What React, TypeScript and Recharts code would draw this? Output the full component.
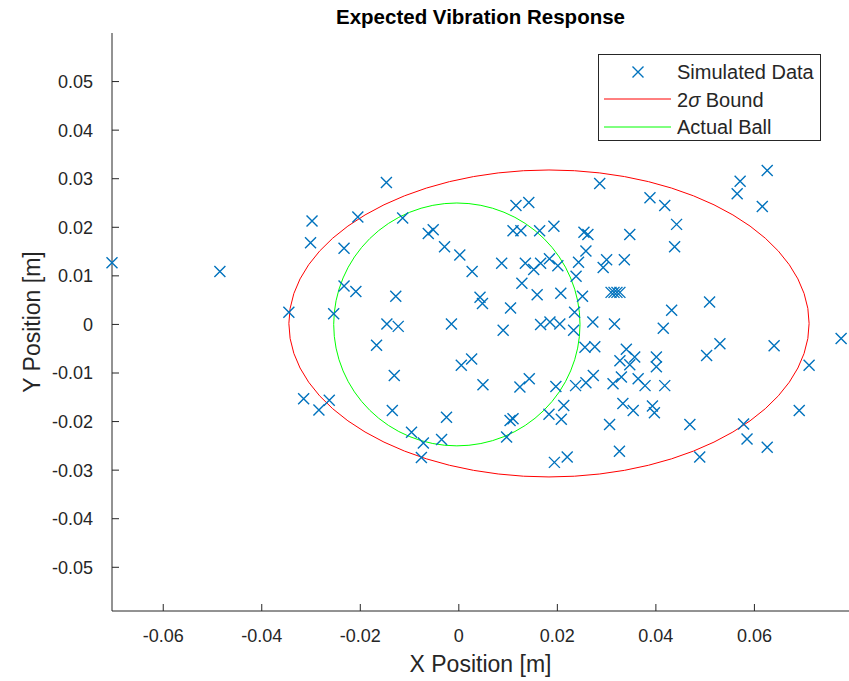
import React from "react";
import { ScatterChart, Scatter, XAxis, YAxis, ReferenceArea, Legend } from "recharts";

// Simulated impact positions [m]
const SIM_X = [
	-0.0704, -0.0485, -0.0345, -0.0315, -0.0284, -0.0263, -0.0301, -0.0298, -0.0233, -0.0205,
	-0.0147, -0.0114, -0.0062, -0.0052, -0.0029, 0.0002, 0.0027, -0.0233, -0.0209, -0.0128,
	-0.0254, -0.0146, -0.0123, -0.0015, -0.0167, -0.0131, -0.0135, -0.0025, -0.0096, -0.0072,
	-0.0035, -0.0076, 0.0005, 0.0026, 0.0043, 0.0048, 0.0049, 0.009, 0.0087, 0.0105,
	0.0116, 0.0142, 0.011, 0.0126, 0.0164, 0.0193, 0.0135, 0.0152, 0.0166, 0.0184,
	0.0201, 0.0128, 0.0159, 0.0207, 0.0166, 0.0185, 0.0205, 0.0233, 0.0238, 0.0243,
	0.0235, 0.0251, 0.0258, 0.0254, 0.0262, 0.0286, 0.0347, 0.03, 0.0293, 0.0336,
	0.0309, 0.0315, 0.0321, 0.0327, 0.0272, 0.0316, 0.0388, 0.0418, 0.0442, 0.0438,
	0.0571, 0.0565, 0.0626, 0.0616, 0.0509, 0.0432, 0.0415, 0.053, 0.0503, 0.064,
	0.0776, 0.0711, 0.0256, 0.0276, 0.034, 0.0327, 0.0357, 0.0347, 0.0401, 0.0401,
	0.033, 0.0313, 0.0273, 0.0258, 0.0237, 0.0364, 0.0378, 0.0418, 0.0197, 0.0124,
	0.0143, 0.0213, 0.0183, 0.0208, 0.0333, 0.0354, 0.0393, 0.0397, 0.0306, 0.0469,
	0.0691, 0.0578, 0.0585, 0.0626, 0.0489, 0.0326, 0.0194, 0.022, 0.0104, 0.011,
	0.0097,
];
const SIM_Y = [
	0.0127, 0.0109, 0.0025, -0.0153, -0.0176, -0.0156, 0.0168, 0.0213, 0.0157, 0.0221,
	0.0292, 0.0219, 0.0187, 0.0195, 0.016, 0.0143, 0.0109, 0.0079, 0.0068, 0.0058,
	0.0022, 0.0001, -0.0004, 0.0001, -0.0043, -0.0105, -0.0177, -0.0191, -0.0222, -0.0244,
	-0.0237, -0.0274, -0.0084, -0.0071, 0.0056, 0.0043, -0.0124, -0.0012, 0.0126, 0.0034,
	0.0245, 0.0251, 0.0193, 0.0193, 0.0193, 0.0202, 0.0126, 0.0113, 0.0126, 0.0135,
	0.0121, 0.0085, 0.0061, 0.0064, 0.0, 0.0005, 0.0001, -0.0012, 0.0099, 0.0128,
	0.0025, 0.0058, 0.0151, 0.019, 0.0185, 0.029, 0.0185, 0.0133, 0.0117, 0.0133,
	0.0066, 0.0066, 0.0066, 0.0066, 0.0005, 0.0001, 0.0261, 0.0245, 0.0206, 0.016,
	0.0295, 0.0269, 0.0317, 0.0243, 0.0046, 0.0029, -0.0008, -0.004, -0.0064, -0.0044,
	-0.0029, -0.0084, -0.0047, -0.0046, -0.0051, -0.0075, -0.0067, -0.0083, -0.0067, -0.0087,
	-0.0108, -0.0122, -0.0105, -0.012, -0.0126, -0.0112, -0.0126, -0.0126, -0.0128, -0.0129,
	-0.0112, -0.0167, -0.0185, -0.0195, -0.0163, -0.0177, -0.0168, -0.0182, -0.0206, -0.0206,
	-0.0177, -0.0205, -0.0236, -0.0253, -0.0273, -0.0261, -0.0284, -0.0273, -0.0198, -0.0194,
	-0.0232,
];

const X_TICKS = [-0.06, -0.04, -0.02, 0, 0.02, 0.04, 0.06];
const Y_TICKS = [-0.05, -0.04, -0.03, -0.02, -0.01, 0, 0.01, 0.02, 0.03, 0.04, 0.05];
const X_DOMAIN = [-0.0704, 0.0792];
const Y_DOMAIN = [-0.059, 0.06];

// 2-sigma bound ellipse (centre, semi-axes) and the actual ball (centre, radius)
const BOUND_CENTER = [0.0183, 0.0002];
const BOUND_RADII = [0.0528, 0.0316];
const BALL_CENTER = [-0.0004, 0];
const BALL_RADIUS = 0.025;

const LEGEND_LABELS = ["Simulated Data", "2σ Bound", "Actual Ball"];

const points = SIM_X.map((x, i) => ({ x, y: SIM_Y[i] }));

const FONT = '"Liberation Sans", Arial, Helvetica, sans-serif';
const AXIS = "#262626";
const BLUE = "#0072BD";
const RED = "#FF0000";
const GREEN = "#00FF00";
const TICK_LEN = 7;
const X_GAP = 18;
const Y_GAP = 19;

const fmt = (v: number) => String(Number(v.toFixed(2)));

const XTick = (props: any) => {
	const { x, y, payload } = props;
	const axisY = y - X_GAP;
	return (
		<g>
			<line x1={x} x2={x} y1={axisY} y2={axisY - TICK_LEN} stroke={AXIS} />
			<text x={x} y={y} dy="0.71em" textAnchor="middle" fill={AXIS} fontSize={18} fontFamily={FONT}>
				{fmt(payload.value)}
			</text>
		</g>
	);
};

const YTick = (props: any) => {
	const { x, y, payload } = props;
	const axisX = x + Y_GAP;
	return (
		<g>
			<line x1={axisX} x2={axisX + TICK_LEN} y1={y} y2={y} stroke={AXIS} />
			<text x={x} y={y} dy="0.36em" textAnchor="end" fill={AXIS} fontSize={18} fontFamily={FONT}>
				{fmt(payload.value)}
			</text>
		</g>
	);
};

const XMarker = (props: any) => {
	const { cx, cy } = props;
	const s = 5.5;
	return (
		<path
			d={`M${cx - s},${cy - s}L${cx + s},${cy + s}M${cx - s},${cy + s}L${cx + s},${cy - s}`}
			stroke={BLUE}
			strokeWidth={1.4}
			fill="none"
		/>
	);
};

const ellipseShape = (color: string) => (props: any) => {
	const { x, y, width, height } = props;
	return (
		<ellipse
			cx={x + width / 2}
			cy={y + height / 2}
			rx={Math.abs(width) / 2}
			ry={Math.abs(height) / 2}
			fill="none"
			stroke={color}
			strokeWidth={1}
		/>
	);
};

const LegendBox = () => (
	<svg width={223} height={87} style={{ display: "block" }}>
		<rect x={0.5} y={0.5} width={222} height={86} fill="#fff" stroke={AXIS} />
		<path d="M34.5,12.5L45.5,23.5M34.5,23.5L45.5,12.5" stroke={BLUE} strokeWidth={1.4} fill="none" />
		<line x1={6} x2={73} y1={45} y2={45} stroke={RED} />
		<line x1={6} x2={73} y1={73} y2={73} stroke={GREEN} />
		{LEGEND_LABELS.map((label, i) => {
			const parts = label.split("σ");
			return (
				<text key={label} x={79} y={18 + i * 27.5} dy="0.36em" fontSize={20} fontFamily={FONT} fill={AXIS}>
					{parts.length > 1 ? (
						<>
							<tspan>{parts[0]}</tspan>
							<tspan fontStyle="italic">σ</tspan>
							<tspan>{parts[1]}</tspan>
						</>
					) : (
						label
					)}
				</text>
			);
		})}
	</svg>
);

export default function App() {
	return (
		<div style={{ position: "absolute", left: 0, top: 0, width: 849, height: 681, background: "#fff", overflow: "hidden" }}>
			<div
				style={{
					position: "absolute",
					left: 112,
					top: 5,
					width: 737,
					height: 24,
					lineHeight: "24px",
					textAlign: "center",
					fontFamily: FONT,
					fontWeight: "bold",
					fontSize: 20.5,
					color: "#000",
				}}
			>
				Expected Vibration Response
			</div>
			<ScatterChart width={849} height={681} margin={{ top: 33, right: 0, bottom: 0, left: 0 }}>
				<XAxis
					type="number"
					dataKey="x"
					domain={X_DOMAIN}
					ticks={X_TICKS}
					height={70}
					tickSize={0}
					tickMargin={X_GAP}
					tick={<XTick />}
					axisLine={{ stroke: AXIS }}
					label={{ value: "X Position [m]", position: "insideBottom", offset: 9, fill: AXIS, fontSize: 23, fontFamily: FONT }}
				/>
				<YAxis
					type="number"
					dataKey="y"
					domain={Y_DOMAIN}
					ticks={Y_TICKS}
					width={112}
					tickSize={0}
					tickMargin={Y_GAP}
					tick={<YTick />}
					axisLine={{ stroke: AXIS }}
					label={{
						value: "Y Position [m]",
						angle: -90,
						position: "insideLeft",
						offset: 32,
						fill: AXIS,
						fontSize: 23,
						fontFamily: FONT,
						style: { textAnchor: "middle" },
					}}
				/>
				<ReferenceArea
					x1={BOUND_CENTER[0] - BOUND_RADII[0]}
					x2={BOUND_CENTER[0] + BOUND_RADII[0]}
					y1={BOUND_CENTER[1] - BOUND_RADII[1]}
					y2={BOUND_CENTER[1] + BOUND_RADII[1]}
					ifOverflow="visible"
					shape={ellipseShape(RED)}
				/>
				<ReferenceArea
					x1={BALL_CENTER[0] - BALL_RADIUS}
					x2={BALL_CENTER[0] + BALL_RADIUS}
					y1={BALL_CENTER[1] - BALL_RADIUS}
					y2={BALL_CENTER[1] + BALL_RADIUS}
					ifOverflow="visible"
					shape={ellipseShape(GREEN)}
				/>
				<Scatter name="Simulated Data" data={points} shape={XMarker} isAnimationActive={false} />
				<Legend
					layout="vertical"
					align="center"
					verticalAlign="middle"
					content={() => <LegendBox />}
					wrapperStyle={{ position: "absolute", left: 598, top: 54, width: 223, height: 87 }}
				/>
			</ScatterChart>
		</div>
	);
}
